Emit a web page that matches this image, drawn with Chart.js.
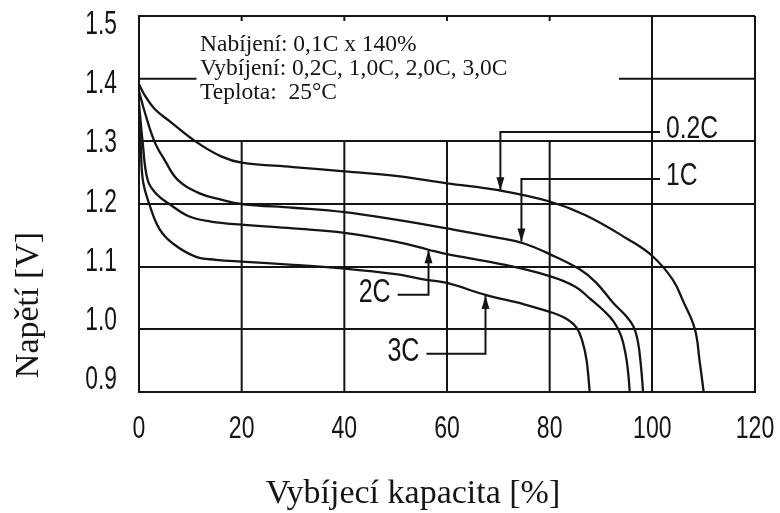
<!DOCTYPE html>
<html>
<head>
<meta charset="utf-8">
<script src="https://cdn.jsdelivr.net/npm/chart.js@4.4.1/dist/chart.umd.min.js"></script>
<style>
  html, body { margin: 0; padding: 0; background: #fff; }
  #wrap { width: 780px; height: 513px; position: relative; }
</style>
</head>
<body>
<div id="wrap"><canvas id="dischargeChart"></canvas></div>
<script>
// discharge curves: capacity [%] -> voltage [V]
const cap02  = [0, 1, 3, 6, 11, 16, 20, 30, 40, 50, 60, 70, 80, 87, 95, 100, 104, 106, 108.3, 109.2, 110];
const volt02 = [1.391, 1.375, 1.352, 1.332, 1.30, 1.276, 1.266, 1.259, 1.252, 1.245, 1.233, 1.222, 1.204, 1.182, 1.145, 1.117, 1.079, 1.045, 1.0, 0.95, 0.9];

const cap1  = [0, 1, 3, 5, 7.6, 11.8, 16, 20, 30, 40, 50, 60, 70, 75, 80, 86, 89, 92.4, 94.8, 96.3, 97.2, 97.8, 98.2];
const volt1 = [1.38, 1.35, 1.30, 1.27, 1.238, 1.217, 1.207, 1.20, 1.194, 1.187, 1.175, 1.161, 1.146, 1.137, 1.12, 1.095, 1.075, 1.042, 1.022, 1.005, 0.98, 0.94, 0.9];

const cap2  = [0, 0.7, 1.7, 3.5, 5.9, 9.8, 14, 20, 30, 40, 50, 56.4, 60, 70, 80, 85, 88, 90.5, 92.5, 93.9, 94.8, 95.3, 95.6];
const volt2 = [1.36, 1.30, 1.238, 1.215, 1.20, 1.18, 1.172, 1.167, 1.161, 1.154, 1.14, 1.127, 1.12, 1.105, 1.085, 1.068, 1.048, 1.03, 1.012, 0.99, 0.96, 0.93, 0.9];

const cap3  = [0, 0.3, 0.75, 2, 4, 6.6, 11, 15, 20, 30, 40, 50, 56, 60, 67.5, 75, 80, 83, 85.2, 86.4, 87.2, 87.8];
const volt3 = [1.33, 1.30, 1.238, 1.20, 1.16, 1.137, 1.116, 1.111, 1.108, 1.103, 1.097, 1.088, 1.079, 1.074, 1.055, 1.04, 1.028, 1.018, 1.003, 0.98, 0.95, 0.9];

const xTicks = [0, 20, 40, 60, 80, 100, 120];
const yTicks = [0.9, 1.0, 1.1, 1.2, 1.3, 1.4, 1.5];

const infoLines = ["Nabíjení: 0,1C x 140%", "Vybíjení: 0,2C, 1,0C, 2,0C, 3,0C", "Teplota:  25°C"];
const xTitle = "Vybíjecí kapacita [%]";
const yTitle = "Napětí [V]";

// curve labels with their arrows: tip on the curve, elbow height, end of leader
const curveLabels = ["0.2C", "1C", "2C", "3C"];
const tipCap      = [70.4, 74.5, 56.4, 67.5];
const tipVolt     = [1.222, 1.140, 1.126, 1.053];
const leaderVolt  = [1.315, 1.240, 1.055, 0.961];
const leaderCap   = [101.5, 101.5, 50.4, 56.0];

const INK = "#151515";
const serif = '"Liberation Serif", "Times New Roman", serif';

function narrowText(ctx, text, x, y, align, size, sx) {
    ctx.save();
    ctx.translate(x, y);
    ctx.scale(sx, 1);
    ctx.font = size + 'px "Liberation Sans", Arial, sans-serif';
    ctx.textAlign = align;
    ctx.textBaseline = "middle";
    ctx.fillText(text, 0, 0);
    ctx.restore();
}

const gridExtras = {
    id: "gridExtras",
    beforeDatasetsDraw(chart) {
        const ctx = chart.ctx;
        const x = chart.scales.x, y = chart.scales.y;
        ctx.save();
        ctx.strokeStyle = INK;
        ctx.lineWidth = 2;
        ctx.beginPath();
        // 1.4 line is broken by the text block
        ctx.moveTo(x.getPixelForValue(0), y.getPixelForValue(1.4));
        ctx.lineTo(x.getPixelForValue(11.2), y.getPixelForValue(1.4));
        ctx.moveTo(x.getPixelForValue(93.5), y.getPixelForValue(1.4));
        ctx.lineTo(x.getPixelForValue(120), y.getPixelForValue(1.4));
        // inner verticals only run from 1.3 down
        [20, 40, 60, 80].forEach(v => {
            const px = x.getPixelForValue(v);
            ctx.moveTo(px, y.getPixelForValue(1.3));
            ctx.lineTo(px, y.getPixelForValue(0.9));
            ctx.moveTo(px, y.getPixelForValue(1.5));
            ctx.lineTo(px, y.getPixelForValue(1.5) + 5);
        });
        ctx.stroke();
        ctx.restore();
    },
    afterDraw(chart) {
        const ctx = chart.ctx;
        const x = chart.scales.x, y = chart.scales.y, yl = chart.scales.yl;
        ctx.save();
        ctx.fillStyle = INK;
        ctx.strokeStyle = INK;

        // tick labels
        xTicks.forEach(v => narrowText(ctx, String(v), x.getPixelForValue(v), 429, "center", 32, 0.72));
        yTicks.forEach(v => narrowText(ctx, v.toFixed(1), 117, yl.getPixelForValue(v), "right", 33, 0.69));

        // axis titles
        ctx.font = "34px " + serif;
        ctx.textAlign = "center";
        ctx.textBaseline = "alphabetic";
        ctx.fillText(xTitle, 413, 503);
        ctx.save();
        ctx.translate(38, 305);
        ctx.rotate(-Math.PI / 2);
        ctx.fillText(yTitle, 0, 0);
        ctx.restore();

        // conditions text block
        ctx.font = "23.5px " + serif;
        ctx.textAlign = "left";
        infoLines.forEach((t, i) => ctx.fillText(t, 200, 51 + i * 24));

        // curve labels with arrows
        ctx.lineWidth = 2;
        curveLabels.forEach((lab, i) => {
            const tx = x.getPixelForValue(tipCap[i]);
            const ty = y.getPixelForValue(tipVolt[i]);
            const ey = y.getPixelForValue(leaderVolt[i]);
            const lx = x.getPixelForValue(leaderCap[i]);
            ctx.beginPath();
            ctx.moveTo(lx, ey);
            ctx.lineTo(tx, ey);
            ctx.lineTo(tx, ty);
            ctx.stroke();
            const dir = ty > ey ? 1 : -1;
            ctx.beginPath();
            ctx.moveTo(tx, ty);
            ctx.lineTo(tx - 4, ty - dir * 13);
            ctx.lineTo(tx + 4, ty - dir * 13);
            ctx.closePath();
            ctx.fill();
            if (lx > tx) narrowText(ctx, lab, lx + 6, ey - 3, "left", 32, 0.77);
            else narrowText(ctx, lab, lx - 7, ey - 2, "right", 33, 0.76);
        });
        ctx.restore();
    }
};

function series(caps, volts) {
    return {
        data: caps.map((c, i) => ({ x: c, y: volts[i] })),
        showLine: true,
        borderColor: INK,
        borderWidth: 2.3,
        pointRadius: 0,
        tension: 0.4
    };
}

const ctx = document.getElementById("dischargeChart").getContext("2d");
new Chart(ctx, {
    type: "scatter",
    data: {
        datasets: [series(cap02, volt02), series(cap1, volt1), series(cap2, volt2), series(cap3, volt3)]
    },
    options: {
        responsive: true,
        maintainAspectRatio: false,
        animation: false,
        layout: { padding: { top: 16, right: 25, left: 0, bottom: 0 } },
        plugins: { legend: { display: false }, tooltip: { enabled: false } },
        scales: {
            x: {
                type: "linear", min: 0, max: 120,
                ticks: { display: false, stepSize: 20 },
                grid: {
                    lineWidth: 2, drawTicks: false,
                    color: c => [20, 40, 60, 80].includes(c.tick.value) ? "rgba(0,0,0,0)" : INK
                },
                border: { color: INK, width: 2 },
                afterFit: s => { s.height = 121; }
            },
            y: {
                type: "linear", min: 0.9, max: 1.5,
                ticks: { display: false, stepSize: 0.1 },
                grid: {
                    lineWidth: 2, drawTicks: false,
                    color: c => Math.abs(c.tick.value - 1.4) < 1e-6 ? "rgba(0,0,0,0)" : INK
                },
                border: { color: INK, width: 2 },
                afterFit: s => { s.width = 139; }
            },
            // the printed tick labels sit on a slightly squeezed scale
            yl: { type: "linear", display: false, min: 0.8797, max: 1.5152 }
        }
    },
    plugins: [gridExtras]
});
</script>
</body>
</html>
